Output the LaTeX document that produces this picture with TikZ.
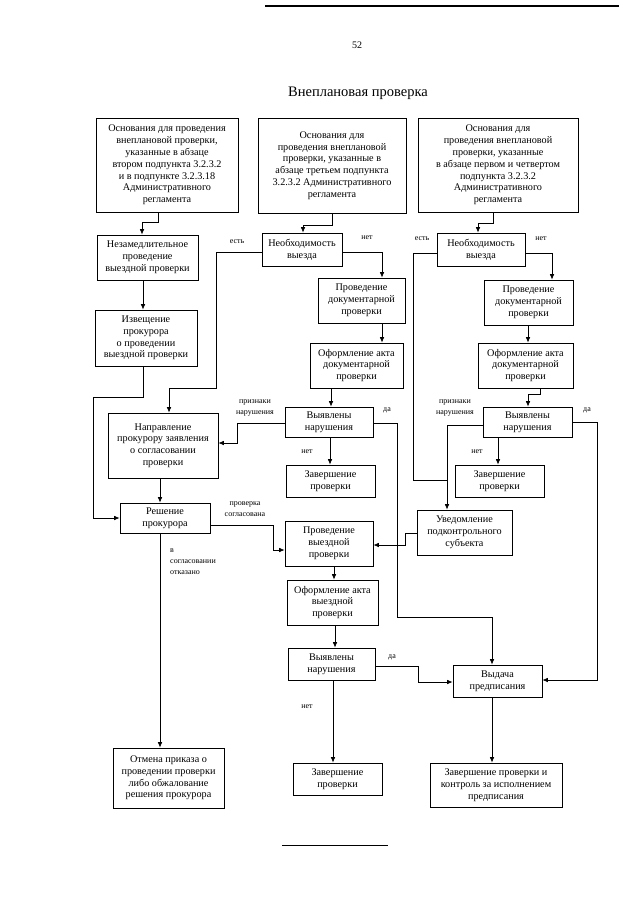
\documentclass[tikz,border=0pt]{standalone}
\usepackage{fontspec}
\setmainfont{Liberation Serif}
\usetikzlibrary{arrows.meta}
\begin{document}
\begin{tikzpicture}[x=1pt,y=-1pt,
  box/.style={draw, line width=0.7pt, inner sep=0pt, align=center, font=\fontsize{10.2}{11.8}\selectfont},
  lbl/.style={inner sep=0pt, font=\fontsize{8}{11}\selectfont, align=center},
  arr/.style={line width=0.7pt, -{Latex[length=5.5pt,width=4.5pt]}},
  ln/.style={line width=0.7pt}]
\useasboundingbox (0,0) rectangle (640,905);
\fill[white] (0,0) rectangle (640,905);
% header
\coordinate (hl1) at (265,6); \coordinate (hl2) at (380,6); \coordinate (hl3) at (619,6);
\draw[line width=1.3pt] (hl1) -- (hl2);
\draw[line width=2pt] (hl2) -- (hl3);
\node[inner sep=0pt, font=\fontsize{10}{12}\selectfont] (page) at (357,45) {52};
\node[inner sep=0pt, font=\fontsize{14.5}{17}\selectfont] (title) at (358,93) {Внеплановая проверка};
\coordinate (bl1) at (282,845); \coordinate (bl2) at (388,845);
\draw[line width=1pt] (bl1) -- (bl2);

% boxes
\node[box, minimum width=142pt, minimum height=94pt] (A) at (167,165) {Основания для проведения\\внеплановой проверки,\\указанные в абзаце\\втором подпункта 3.2.3.2\\и в подпункте 3.2.3.18\\Административного\\регламента};
\node[box, minimum width=148pt, minimum height=95pt] (B) at (332,165.5) {Основания для\\проведения внеплановой\\проверки, указанные в\\абзаце третьем подпункта\\3.2.3.2 Административного\\регламента};
\node[box, minimum width=160pt, minimum height=94pt] (C) at (498,165) {Основания для\\проведения внеплановой\\проверки, указанные\\в абзаце первом и четвертом\\подпункта 3.2.3.2\\Административного\\регламента};

\node[box, minimum width=101pt, minimum height=45pt] (N0) at (147.5,257.5) {Незамедлительное\\проведение\\выездной проверки};
\node[box, minimum width=80pt, minimum height=33pt] (N1) at (302,249.5) {Необходимость\\выезда};
\node[box, minimum width=88pt, minimum height=33pt] (N2) at (481,249.5) {Необходимость\\выезда};

\node[box, minimum width=102pt, minimum height=56pt] (Izv) at (146,338) {Извещение\\прокурора\\о проведении\\выездной проверки};
\node[box, minimum width=87pt, minimum height=45pt] (PD1) at (361.5,300.5) {Проведение\\документарной\\проверки};
\node[box, minimum width=89pt, minimum height=45pt] (PD2) at (528.5,302.5) {Проведение\\документарной\\проверки};
\node[box, minimum width=93pt, minimum height=45pt] (OA1) at (356.5,365.5) {Оформление акта\\документарной\\проверки};
\node[box, minimum width=95pt, minimum height=45pt] (OA2) at (525.5,365.5) {Оформление акта\\документарной\\проверки};

\node[box, minimum width=110pt, minimum height=65pt] (Napr) at (163,445.5) {Направление\\прокурору заявления\\о согласовании\\проверки};
\node[box, minimum width=88pt, minimum height=30pt] (VN1) at (329,422) {Выявлены\\нарушения};
\node[box, minimum width=89pt, minimum height=30pt] (VN2) at (527.5,422) {Выявлены\\нарушения};
\node[box, minimum width=89pt, minimum height=32pt] (Z1) at (330.5,481) {Завершение\\проверки};
\node[box, minimum width=89pt, minimum height=32pt] (Z2) at (499.5,481) {Завершение\\проверки};

\node[box, minimum width=90pt, minimum height=30pt] (Resh) at (165,518) {Решение\\прокурора};
\node[box, minimum width=95pt, minimum height=45pt] (Uved) at (464.5,532.5) {Уведомление\\подконтрольного\\субъекта};
\node[box, minimum width=88pt, minimum height=45pt] (PV) at (329,543.5) {Проведение\\выездной\\проверки};
\node[box, minimum width=91pt, minimum height=45pt] (OAV) at (332.5,602.5) {Оформление акта\\выездной\\проверки};
\node[box, minimum width=87pt, minimum height=32pt] (VN3) at (331.5,664) {Выявлены\\нарушения};
\node[box, minimum width=89pt, minimum height=32pt] (Vyd) at (497.5,681) {Выдача\\предписания};

\node[box, minimum width=111pt, minimum height=60pt] (Otm) at (168.5,778) {Отмена приказа о\\проведении проверки\\либо обжалование\\решения прокурора};
\node[box, minimum width=89pt, minimum height=32pt] (Z3) at (337.5,779) {Завершение\\проверки};
\node[box, minimum width=132pt, minimum height=44pt] (Fin) at (496,785) {Завершение проверки и\\контроль за исполнением\\предписания};

% labels
\node[lbl] (l1) at (237,242) {есть};
\node[lbl] (l2) at (367,238) {нет};
\node[lbl] (l3) at (422,239) {есть};
\node[lbl] (l4) at (541,239) {нет};
\node[lbl] (l5) at (255,408) {признаки\\нарушения};
\node[lbl] (l6) at (455,408) {признаки\\нарушения};
\node[lbl] (l7) at (387,410) {да};
\node[lbl] (l8) at (587,410) {да};
\node[lbl] (l9) at (307,452) {нет};
\node[lbl] (l10) at (477,452) {нет};
\node[lbl] (l11) at (245,509) {проверка\\согласована};
\node[lbl, anchor=north west, align=left] (l12) at (170,549) {в\\согласовании\\отказано};
\node[lbl] (l13) at (392,657) {да};
\node[lbl] (l14) at (307,707) {нет};

% connectors
\draw[arr] (A.south -| 158,0) -- (158,222) -- (142,222) -- (N0.north -| 142,0);
\draw[arr] (B.south -| 332,0) -- (332,225) -- (303,225) -- (N1.north -| 303,0);
\draw[arr] (C.south -| 493,0) -- (493,223) -- (478,223) -- (N2.north -| 478,0);
\draw[arr] (N0.south -| 143,0) -- (Izv.north -| 143,0);
\draw[arr] (Izv.south -| 143,0) -- (143,397) -- (93,397) -- (93,518) -- (Resh.west);
\draw[arr] (N1.west |- 0,252) -- (216,252) -- (216,388) -- (169,388) -- (Napr.north -| 169,0);
\draw[arr] (N1.east |- 0,252) -- (382,252) -- (PD1.north -| 382,0);
\draw[arr] (PD1.south -| 382,0) -- (OA1.north -| 382,0);
\draw[arr] (OA1.south -| 331,0) -- (VN1.north -| 331,0);
\draw[arr] (VN1.west |- 0,423) -- (237,423) -- (237,443) -- (Napr.east |- 0,443);
\draw[arr] (VN1.south -| 330,0) -- (Z1.north -| 330,0);
\draw[arr] (VN1.east |- 0,423) -- (397,423) -- (397,617) -- (492,617) -- (Vyd.north -| 492,0);
\draw[arr] (Napr.south -| 160,0) -- (Resh.north -| 160,0);
\draw[arr] (Resh.east |- 0,525) -- (273,525) -- (273,550) -- (PV.west |- 0,550);
\draw[arr] (Resh.south -| 160,0) -- (Otm.north -| 160,0);
\draw[ln] (N2.west |- 0,253) -- (413,253) -- (413,480) -- (447,480);
\draw[arr] (N2.east |- 0,253) -- (552,253) -- (PD2.north -| 552,0);
\draw[arr] (PD2.south -| 528,0) -- (OA2.north -| 528,0);
\draw[arr] (OA2.south -| 540,0) -- (540,394) -- (528,394) -- (VN2.north -| 528,0);
\draw[arr] (VN2.west |- 0,425) -- (447,425) -- (Uved.north -| 447,0);
\draw[arr] (VN2.south -| 498,0) -- (Z2.north -| 498,0);
\draw[arr] (VN2.east |- 0,422) -- (597,422) -- (597,680) -- (Vyd.east |- 0,680);
\draw[arr] (Uved.west |- 0,533) -- (405,533) -- (405,545) -- (PV.east |- 0,545);
\draw[arr] (PV.south -| 334,0) -- (OAV.north -| 334,0);
\draw[arr] (OAV.south -| 335,0) -- (VN3.north -| 335,0);
\draw[arr] (VN3.east |- 0,666) -- (418,666) -- (418,682) -- (Vyd.west |- 0,682);
\draw[arr] (VN3.south -| 333,0) -- (Z3.north -| 333,0);
\draw[arr] (Vyd.south -| 492,0) -- (Fin.north -| 492,0);
\end{tikzpicture}
\end{document}
